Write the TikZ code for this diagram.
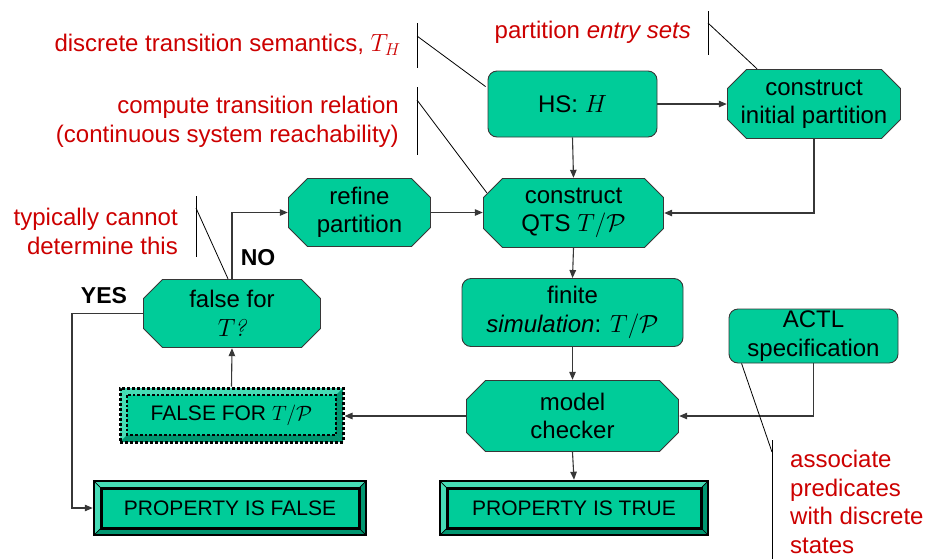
\documentclass[tikz,border=0pt]{standalone}
\usepackage{fontspec}
\setmainfont{Liberation Sans}
\usetikzlibrary{arrows.meta,calc}

\definecolor{boxgreen}{RGB}{0,204,153}
\definecolor{bevlight}{RGB}{70,220,182}
\definecolor{bevdark}{RGB}{0,150,112}
\definecolor{notered}{RGB}{204,0,0}
\definecolor{edgegray}{RGB}{55,55,55}

\tikzset{
  lbl/.style={font=\fontsize{24}{28.5}\selectfont, align=center, inner sep=0pt},
  roundbox/.style={lbl, rectangle, rounded corners=9pt, fill=boxgreen,
    draw=edgegray, line width=0.9pt},
  % octagon drawn inside the node's rectangle, so connectors meet its flat sides
  octbox/.style={lbl, rectangle,
    path picture={
      \path (path picture bounding box.north west) ++(0.5pt,-0.5pt) coordinate (q1)
            (path picture bounding box.north east) ++(-0.5pt,-0.5pt) coordinate (q2)
            (path picture bounding box.south east) ++(-0.5pt,0.5pt) coordinate (q3)
            (path picture bounding box.south west) ++(0.5pt,0.5pt) coordinate (q4);
      \filldraw[fill=boxgreen, draw=edgegray, line width=0.9pt]
        ($(q1)+(19pt,0pt)$) -- ($(q2)+(-19pt,0pt)$) -- ($(q2)+(0pt,-19pt)$)
        -- ($(q3)+(0pt,19pt)$) -- ($(q3)+(-19pt,0pt)$) -- ($(q4)+(19pt,0pt)$)
        -- ($(q4)+(0pt,19pt)$) -- ($(q1)+(0pt,-19pt)$) -- cycle;
    }},
  bevel inner/.style={black, line width=3pt, solid},
  bevel diag/.style={black, line width=0.7pt, solid},
  bevelbox/.style={font=\fontsize{21}{25}\selectfont, rectangle, inner sep=0pt,
    fill=boxgreen, draw=black, line width=2.5pt,
    path picture={
      \path (path picture bounding box.north west) coordinate (o1)
            (path picture bounding box.north east) coordinate (o2)
            (path picture bounding box.south east) coordinate (o3)
            (path picture bounding box.south west) coordinate (o4);
      \path (o1) ++(7pt,-7pt) coordinate (i1)
            (o2) ++(-7pt,-7pt) coordinate (i2)
            (o3) ++(-7pt,7pt) coordinate (i3)
            (o4) ++(7pt,7pt) coordinate (i4);
      \fill[bevlight] (o1) -- (o2) -- (i2) -- (i1) -- cycle;
      \fill[bevlight] (o1) -- (i1) -- (i4) -- (o4) -- cycle;
      \fill[bevdark] (o2) -- (o3) -- (i3) -- (i2) -- cycle;
      \fill[bevdark] (o4) -- (o3) -- (i3) -- (i4) -- cycle;
      \draw[bevel diag] (o1) -- (i1) (o2) -- (i2) (o3) -- (i3) (o4) -- (i4);
      \draw[bevel inner] (i1) rectangle (i3);
    }},
  dotbevel/.style={bevelbox, line width=3pt, dash pattern=on 3pt off 2pt,
    bevel inner/.style={black, line width=2.8pt, dash pattern=on 2.8pt off 2pt},
    bevel diag/.style={draw=none}},
  flow/.style={draw=edgegray, line width=1.1pt, -{Triangle[length=8pt,width=6.5pt]}},
  note/.style={font=\fontsize{24}{28.5}\selectfont, text=notered, inner sep=0pt},
  callout/.style={draw=black, line width=0.8pt},
  answer/.style={font=\fontsize{23}{27}\selectfont\bfseries, inner sep=0pt}
}

\begin{document}
\begin{tikzpicture}[x=1pt,y=-1pt]
  \useasboundingbox (0,0) rectangle (927,558);

  % process boxes
  \node[roundbox, minimum width=169pt, minimum height=66pt] (hs) at (572.5,104) {HS: $H$};
  \node[octbox, minimum width=174pt, minimum height=70pt] (init) at (814,104) {construct\\initial partition};
  \node[octbox, minimum width=181pt, minimum height=70pt] (qts) at (573.5,213) {construct\\QTS $T/\mathcal{P}$};
  \node[octbox, minimum width=143pt, minimum height=69pt] (refine) at (359.5,212.5) {refine\\partition};
  \node[roundbox, minimum width=221pt, minimum height=68pt] (fin) at (572.5,312.5) {finite\\\textit{simulation}: $T/\mathcal{P}$};
  \node[roundbox, minimum width=169pt, minimum height=54pt] (actl) at (813.5,336) {ACTL\\specification};
  \node[octbox, minimum width=213pt, minimum height=72pt] (mc) at (572.5,416) {model\\checker};
  \node[octbox, minimum width=178pt, minimum height=69pt] (ft) at (232,313.5) {false for\\$T$\kern-1.5pt{\fontfamily{lmr}\itshape ?}};
  \node[dotbevel, minimum width=223pt, minimum height=54pt] (ff) at (231.5,415) {FALSE FOR $T/\mathcal{P}$};
  \node[bevelbox, minimum width=268pt, minimum height=54pt] (pt) at (574,508) {PROPERTY IS TRUE};
  \node[bevelbox, minimum width=272pt, minimum height=54pt] (pf) at (230,508) {PROPERTY IS FALSE};

  % flow connectors
  \draw[flow] (hs.east) -- (init.west);
  \draw[flow] (hs.south) -- (qts.north);
  \draw[flow] (init.south) |- (qts.east);
  \draw[flow] (refine.east) -- (refine.east -| qts.west);
  \draw[flow] (qts.south) -- (fin.north);
  \draw[flow] (fin.south) -- (mc.north);
  \draw[flow] (actl.south) |- (mc.east);
  \draw[flow] (mc.west) -- (mc.west -| ff.east);
  \draw[flow] (mc.south) -- (pt.north);
  \draw[flow] (ff.north) -- (ft.south);
  \draw[flow] (ft.north) |- (refine.west);
  \coordinate (yesbend) at (72,313.5);
  \draw[flow] (ft.west) -- (yesbend) |- (pf.west);
  \node[answer] (no) at (258,258) {NO};
  \node[answer] (yes) at (104,296) {YES};

  % annotations
  \node[note, anchor=east] (n1) at (401,45) {discrete transition semantics, $T_H$};
  \coordinate (b1a) at (417,23); \coordinate (b1b) at (417,68); \coordinate (b1c) at (417,36);
  \draw[callout] (b1a) -- (b1b);
  \draw[callout] (b1c) -- ($(hs.north west)+(-2,16)$);

  \node[note, anchor=east, align=right] (n2) at (399,122) {compute transition relation\\(continuous system reachability)};
  \coordinate (b2a) at (417,87); \coordinate (b2b) at (417,155); \coordinate (b2c) at (417,100);
  \draw[callout] (b2a) -- (b2b);
  \draw[callout] (b2c) -- ($(qts.west |- qts.north)+(4,15)$);

  \node[note, anchor=east] (n3) at (691,32) {partition \textit{entry sets}};
  \coordinate (b3a) at (708,11); \coordinate (b3b) at (708,55); \coordinate (b3c) at (708,23);
  \draw[callout] (b3a) -- (b3b);
  \draw[callout] (b3c) -- ($(init.north)+(-57,0)$);

  \node[note, anchor=east, align=right] (n4) at (178,231.5) {typically cannot\\determine this};
  \coordinate (b4a) at (196,196); \coordinate (b4b) at (196,257); \coordinate (b4c) at (196,208);
  \draw[callout] (b4a) -- (b4b);
  \draw[callout] (b4c) -- ($(ft.north)+(-4,0)$);

  \node[note, anchor=west, align=left] (n5) at (790,502) {associate\\predicates\\with discrete\\states};
  \coordinate (b5a) at (772,440); \coordinate (b5b) at (772,560); \coordinate (b5c) at (772,452);
  \draw[callout] (b5a) -- (b5b);
  \draw[callout] ($(actl.south west)+(13,0)$) -- (b5c);
\end{tikzpicture}
\end{document}
